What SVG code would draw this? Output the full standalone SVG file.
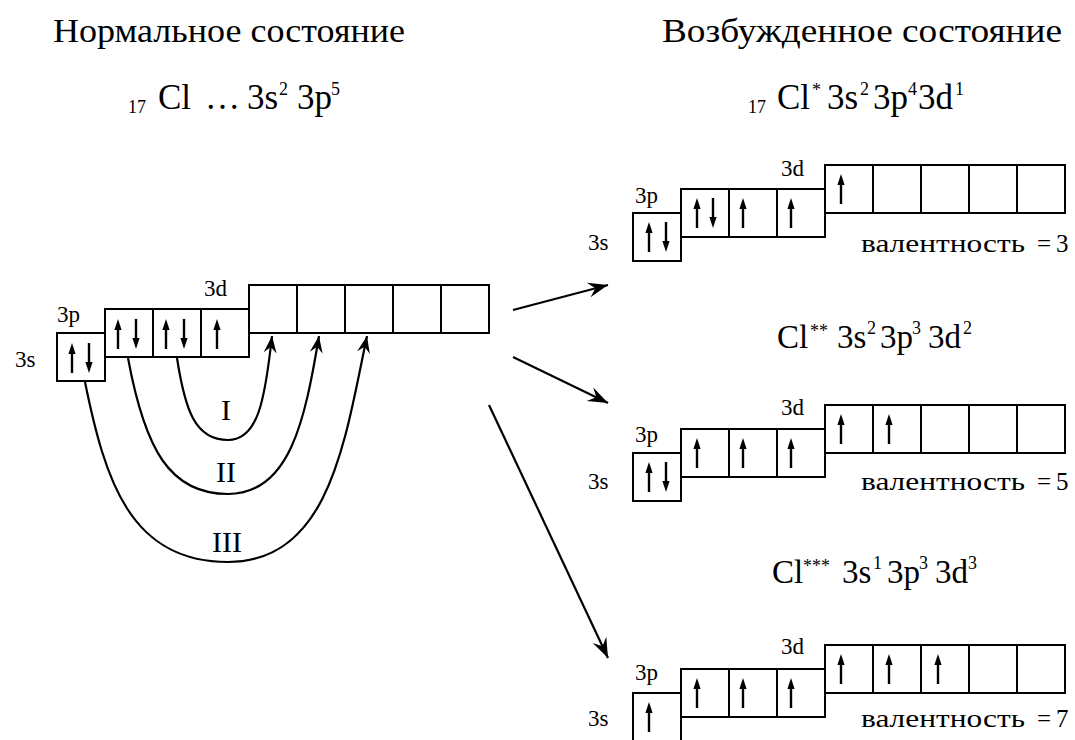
<svg xmlns="http://www.w3.org/2000/svg" xmlns:xlink="http://www.w3.org/1999/xlink" width="1075" height="740" viewBox="0 0 1075 740">
  <style>
    text { font-family: "Liberation Serif", "Times New Roman", serif; fill: #000; }
    .title { font-size: 33px; }
    .main { font-size: 35px; }
    .main2 { font-size: 33px; }
    .sup { font-size: 18px; }
    .lbl { font-size: 23px; }
    .val { font-size: 25px; }
    .roman { font-size: 30px; text-anchor: middle; }
    .box { fill: #fff; stroke: #000; stroke-width: 2; }
    .stem { stroke: #000; stroke-width: 2.4; }
    .link { fill: none; stroke: #000; stroke-width: 2.2; }
  </style>
  <defs>
    <!-- spin arrows, centred on the box middle -->
    <g id="up">
      <line class="stem" x1="0" y1="15" x2="0" y2="-6"/>
      <path d="M0,-15 L-3.6,-4 L3.6,-4 Z" fill="#000"/>
    </g>
    <g id="dn">
      <line class="stem" x1="0" y1="-15" x2="0" y2="6"/>
      <path d="M0,15 L-3.6,4 L3.6,4 Z" fill="#000"/>
    </g>
    <marker id="head" viewBox="-22 -9 24 18" refX="0" refY="0" markerWidth="24" markerHeight="18" markerUnits="userSpaceOnUse" orient="auto">
      <path d="M0,0 L-20,-7.5 L-13,0 L-20,7.5 Z" fill="#000"/>
    </marker>
    <marker id="headS" viewBox="-20 -8 22 16" refX="0" refY="0" markerWidth="22" markerHeight="16" markerUnits="userSpaceOnUse" orient="auto">
      <path d="M0,0 L-17,-6.5 L-11,0 L-17,6.5 Z" fill="#000"/>
    </marker>
  </defs>

  <!-- headings -->
  <g id="heading-normal">
    <text class="title" x="53" y="42" textLength="352" lengthAdjust="spacingAndGlyphs">Нормальное состояние</text>
    <text class="main"><tspan class="sup" x="128" y="113">17</tspan><tspan x="158" y="109">Cl</tspan><tspan x="205" y="109">…</tspan><tspan x="247" y="109">3s</tspan><tspan class="sup" x="279" y="95">2</tspan><tspan x="297" y="109">3p</tspan><tspan class="sup" x="331" y="95">5</tspan></text>
  </g>
  <g id="heading-excited">
    <text class="title" x="662" y="42" textLength="400" lengthAdjust="spacingAndGlyphs">Возбужденное состояние</text>
    <text class="main"><tspan class="sup" x="748" y="113">17</tspan><tspan x="777" y="109">Cl</tspan><tspan class="sup" x="812" y="96">*</tspan><tspan x="827" y="109">3s</tspan><tspan class="sup" x="860" y="95">2</tspan><tspan x="873" y="109">3p</tspan><tspan class="sup" x="908" y="95">4</tspan><tspan x="918" y="109">3d</tspan><tspan class="sup" x="955" y="95">1</tspan></text>
  </g>

  <!-- ground state orbitals -->
  <g id="ground-state">
    <text class="lbl" x="15" y="367">3s</text>
    <text class="lbl" x="57" y="322">3p</text>
    <text class="lbl" x="204" y="296">3d</text>
    <rect class="box" x="57" y="333" width="48" height="48"/>
    <rect class="box" x="105" y="309" width="48" height="48"/>
    <rect class="box" x="153" y="309" width="48" height="48"/>
    <rect class="box" x="201" y="309" width="48" height="48"/>
    <rect class="box" x="249" y="285" width="48" height="48"/>
    <rect class="box" x="297" y="285" width="48" height="48"/>
    <rect class="box" x="345" y="285" width="48" height="48"/>
    <rect class="box" x="393" y="285" width="48" height="48"/>
    <rect class="box" x="441" y="285" width="48" height="48"/>
    <use xlink:href="#up" x="72" y="358"/>
    <use xlink:href="#dn" x="89" y="358"/>
    <use xlink:href="#up" x="118" y="334"/>
    <use xlink:href="#dn" x="136" y="334"/>
    <use xlink:href="#up" x="166" y="334"/>
    <use xlink:href="#dn" x="184" y="334"/>
    <use xlink:href="#up" x="217" y="334"/>
  </g>

  <!-- excited state Cl* -->
  <g id="excited-1">
    <text class="lbl" x="588" y="250">3s</text>
    <text class="lbl" x="635" y="203">3p</text>
    <text class="lbl" x="781" y="176">3d</text>
    <rect class="box" x="633" y="213" width="48" height="48"/>
    <rect class="box" x="681" y="189" width="48" height="48"/>
    <rect class="box" x="729" y="189" width="48" height="48"/>
    <rect class="box" x="777" y="189" width="48" height="48"/>
    <rect class="box" x="825" y="165" width="48" height="48"/>
    <rect class="box" x="873" y="165" width="48" height="48"/>
    <rect class="box" x="921" y="165" width="48" height="48"/>
    <rect class="box" x="969" y="165" width="48" height="48"/>
    <rect class="box" x="1017" y="165" width="48" height="48"/>
    <use xlink:href="#up" x="649" y="237"/>
    <use xlink:href="#dn" x="666" y="237"/>
    <use xlink:href="#up" x="697" y="213"/>
    <use xlink:href="#dn" x="713" y="213"/>
    <use xlink:href="#up" x="743" y="213"/>
    <use xlink:href="#up" x="791" y="213"/>
    <use xlink:href="#up" x="841" y="189"/>
    <text class="val" y="252"><tspan x="861" textLength="164" lengthAdjust="spacingAndGlyphs">валентность</tspan><tspan x="1037">=</tspan><tspan x="1056">3</tspan></text>
  </g>

  <!-- excited state Cl** -->
  <g id="excited-2">
    <text class="main2"><tspan x="777" y="348">Cl</tspan><tspan class="sup" x="810" y="337">**</tspan><tspan x="837" y="348">3s</tspan><tspan class="sup" x="867" y="334">2</tspan><tspan x="880" y="348">3p</tspan><tspan class="sup" x="912" y="334">3</tspan><tspan x="928" y="348">3d</tspan><tspan class="sup" x="963" y="334">2</tspan></text>
    <text class="lbl" x="588" y="489">3s</text>
    <text class="lbl" x="635" y="442">3p</text>
    <text class="lbl" x="781" y="415">3d</text>
    <rect class="box" x="633" y="453" width="48" height="48"/>
    <rect class="box" x="681" y="429" width="48" height="48"/>
    <rect class="box" x="729" y="429" width="48" height="48"/>
    <rect class="box" x="777" y="429" width="48" height="48"/>
    <rect class="box" x="825" y="405" width="48" height="48"/>
    <rect class="box" x="873" y="405" width="48" height="48"/>
    <rect class="box" x="921" y="405" width="48" height="48"/>
    <rect class="box" x="969" y="405" width="48" height="48"/>
    <rect class="box" x="1017" y="405" width="48" height="48"/>
    <use xlink:href="#up" x="649" y="477"/>
    <use xlink:href="#dn" x="666" y="477"/>
    <use xlink:href="#up" x="697" y="453"/>
    <use xlink:href="#up" x="743" y="453"/>
    <use xlink:href="#up" x="791" y="453"/>
    <use xlink:href="#up" x="841" y="429"/>
    <use xlink:href="#up" x="889" y="429"/>
    <text class="val" y="490"><tspan x="861" textLength="164" lengthAdjust="spacingAndGlyphs">валентность</tspan><tspan x="1037">=</tspan><tspan x="1056">5</tspan></text>
  </g>

  <!-- excited state Cl*** -->
  <g id="excited-3">
    <text class="main2"><tspan x="772" y="583">Cl</tspan><tspan class="sup" x="803" y="572">***</tspan><tspan x="842" y="583">3s</tspan><tspan class="sup" x="873" y="569">1</tspan><tspan x="887" y="583">3p</tspan><tspan class="sup" x="919" y="569">3</tspan><tspan x="935" y="583">3d</tspan><tspan class="sup" x="968" y="569">3</tspan></text>
    <text class="lbl" x="588" y="726">3s</text>
    <text class="lbl" x="635" y="680">3p</text>
    <text class="lbl" x="781" y="654">3d</text>
    <rect class="box" x="633" y="693" width="48" height="48"/>
    <rect class="box" x="681" y="669" width="48" height="48"/>
    <rect class="box" x="729" y="669" width="48" height="48"/>
    <rect class="box" x="777" y="669" width="48" height="48"/>
    <rect class="box" x="825" y="645" width="48" height="48"/>
    <rect class="box" x="873" y="645" width="48" height="48"/>
    <rect class="box" x="921" y="645" width="48" height="48"/>
    <rect class="box" x="969" y="645" width="48" height="48"/>
    <rect class="box" x="1017" y="645" width="48" height="48"/>
    <use xlink:href="#up" x="649" y="717"/>
    <use xlink:href="#up" x="697" y="693"/>
    <use xlink:href="#up" x="743" y="693"/>
    <use xlink:href="#up" x="791" y="693"/>
    <use xlink:href="#up" x="841" y="669"/>
    <use xlink:href="#up" x="889" y="669"/>
    <use xlink:href="#up" x="938" y="669"/>
    <text class="val" y="727"><tspan x="861" textLength="164" lengthAdjust="spacingAndGlyphs">валентность</tspan><tspan x="1037">=</tspan><tspan x="1056">7</tspan></text>
  </g>

  <!-- electron transitions and state arrows -->
  <g id="connectors">
    <path class="link" d="M177,358 C185,410 195,440 228,440 C258,440 265,400 272,336" marker-end="url(#headS)"/>
    <path class="link" d="M128,358 C145,450 170,494 228,494 C290,494 305,420 319,336" marker-end="url(#headS)"/>
    <path class="link" d="M85,382 C105,480 130,562 228,562 C330,562 345,440 367,336" marker-end="url(#headS)"/>
    <line class="link" x1="513" y1="310" x2="608" y2="285" marker-end="url(#head)"/>
    <line class="link" x1="513" y1="357" x2="608" y2="403" marker-end="url(#head)"/>
    <line class="link" x1="489" y1="405" x2="608" y2="658" marker-end="url(#head)"/>
    <text class="roman" x="226" y="420">I</text>
    <text class="roman" x="226" y="482">II</text>
    <text class="roman" x="227" y="552">III</text>
  </g>
</svg>
